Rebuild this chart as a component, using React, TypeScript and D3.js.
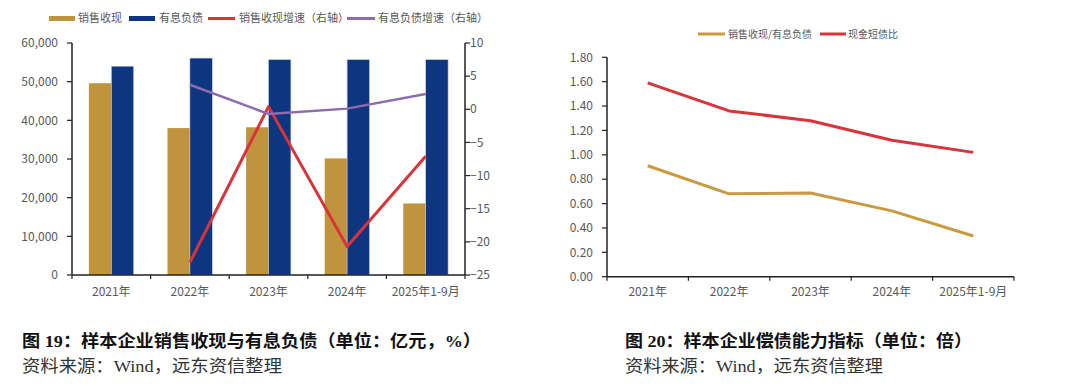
import React from "react";
import * as d3 from "d3";

const categories = ["2021年", "2022年", "2023年", "2024年", "2025年1-9月"];
const salesCash = [49600, 38000, 38200, 30150, 18500];
const debt = [54000, 56100, 55700, 55700, 55700];
const salesGrowth: (number | null)[] = [null, -23.1, 0.4, -20.7, -7.1];
const debtGrowth: (number | null)[] = [null, 3.7, -0.7, 0.1, 2.3];
const leftTicks = [0, 10000, 20000, 30000, 40000, 50000, 60000];
const rightTicks = [10, 5, 0, -5, -10, -15, -20, -25];

const salesToDebt = [0.91, 0.68, 0.687, 0.54, 0.334];
const cashShortDebt = [1.59, 1.36, 1.28, 1.12, 1.02];
const ratioTicks = [0, 0.2, 0.4, 0.6, 0.8, 1.0, 1.2, 1.4, 1.6, 1.8];

const GOLD = "#BF943C";
const BLUE = "#0E3580";
const RED = "#D8343A";
const PURPLE = "#8C6BB1";
const LINEGOLD = "#C99A3F";
const TXT = "#595959";
const FONT = "'Noto Sans CJK SC', 'DejaVu Sans', sans-serif";
const CAPFONT = "'Liberation Serif', 'Noto Sans CJK SC', serif";

function LeftChart() {
  const x0 = 72, x1 = 465, yTop = 43, yBot = 275;
  const x = d3.scaleBand<string>().domain(categories).range([x0, x1]).paddingInner(0.43).paddingOuter(0.215);
  const sub = d3.scaleBand<string>().domain(["s", "d"]).range([0, x.bandwidth()]);
  const yL = d3.scaleLinear().domain([0, 60000]).range([yBot, yTop]);
  const yR = d3.scaleLinear().domain([-25, 10]).range([yBot, yTop]);
  const cx = (c: string) => (x(c) as number) + x.bandwidth() / 2;
  const step = (x1 - x0) / categories.length;
  const mkLine = d3
    .line<number | null>()
    .defined((d) => d !== null)
    .x((_, i) => cx(categories[i]))
    .y((d) => yR(d as number));
  const fmt = d3.format(",");
  return (
    <g>
      {/* legend */}
      <g fontFamily={FONT} fontSize={11} fill={TXT}>
        <rect x={49} y={16} width={26} height={5} fill={GOLD} />
        <text x={78} y={22}>销售收现</text>
        <rect x={129} y={16} width={26} height={5} fill={BLUE} />
        <text x={159} y={22}>有息负债</text>
        <line x1={208} x2={235} y1={18.5} y2={18.5} stroke={RED} strokeWidth={3} />
        <text x={239} y={22}>销售收现增速（右轴）</text>
        <line x1={347} x2={375} y1={18.5} y2={18.5} stroke={PURPLE} strokeWidth={3} />
        <text x={378} y={22}>有息负债增速（右轴）</text>
      </g>
      {/* bars */}
      {categories.map((c, i) => (
        <g key={c}>
          <rect
            x={(x(c) as number) + (sub("s") as number)}
            y={yL(salesCash[i])}
            width={sub.bandwidth()}
            height={yBot - yL(salesCash[i])}
            fill={GOLD}
          />
          <rect
            x={(x(c) as number) + (sub("d") as number)}
            y={yL(debt[i])}
            width={sub.bandwidth()}
            height={yBot - yL(debt[i])}
            fill={BLUE}
            stroke="#c6d0e6"
            strokeWidth={0.6}
          />
        </g>
      ))}
      {/* lines */}
      <path d={mkLine(salesGrowth) || ""} fill="none" stroke={RED} strokeWidth={3} strokeLinejoin="round" />
      <path d={mkLine(debtGrowth) || ""} fill="none" stroke={PURPLE} strokeWidth={2.5} strokeLinejoin="round" />
      {/* left axis */}
      <line x1={x0} x2={x0} y1={yTop} y2={yBot} stroke="#222" strokeWidth={1.5} />
      {leftTicks.map((t) => (
        <g key={t}>
          <line x1={x0 - 5} x2={x0} y1={yL(t)} y2={yL(t)} stroke="#222" strokeWidth={1.2} />
          <text x={58} y={yL(t)} dy="0.35em" textAnchor="end" fontFamily={FONT} fontSize={12} fill={TXT}>
            {fmt(t)}
          </text>
        </g>
      ))}
      {/* right axis */}
      <line x1={x1} x2={x1} y1={yTop} y2={yBot} stroke="#222" strokeWidth={1.5} />
      {rightTicks.map((t) => (
        <g key={t}>
          <line x1={x1} x2={x1 + 5} y1={yR(t)} y2={yR(t)} stroke="#222" strokeWidth={1.2} />
          <text x={x1 + 5} y={yR(t)} dy="0.35em" fontFamily={FONT} fontSize={12} fill={TXT}>
            {t < 0 ? "\u2212" + Math.abs(t) : String(t)}
          </text>
        </g>
      ))}
      {/* x axis */}
      <line x1={x0} x2={x1} y1={yBot} y2={yBot} stroke="#222" strokeWidth={1.5} />
      {d3.range(categories.length + 1).map((i) => (
        <line key={i} x1={x0 + i * step} x2={x0 + i * step} y1={yBot} y2={yBot + 4} stroke="#222" strokeWidth={1.2} />
      ))}
      {categories.map((c) => (
        <text key={c} x={cx(c)} y={292} dy="0.35em" textAnchor="middle" fontFamily={FONT} fontSize={12} fill={TXT}>
          {c}
        </text>
      ))}
    </g>
  );
}

function RightChart() {
  const x0 = 607, x1 = 1014, yTop = 57.3, yBot = 276.7;
  const x = d3.scalePoint<string>().domain(categories).range([x0, x1]).padding(0.5);
  const y = d3.scaleLinear().domain([0, 1.8]).range([yBot, yTop]);
  const step = (x1 - x0) / categories.length;
  const mk = d3
    .line<number>()
    .x((_, i) => x(categories[i]) as number)
    .y((d) => y(d));
  return (
    <g>
      <g fontFamily={FONT} fontSize={10} fill={TXT}>
        <line x1={698} x2={725} y1={34} y2={34} stroke={LINEGOLD} strokeWidth={3} />
        <text x={728} y={37.5}>销售收现/有息负债</text>
        <line x1={820} x2={846} y1={34} y2={34} stroke={RED} strokeWidth={3} />
        <text x={848} y={37.5}>现金短债比</text>
      </g>
      <path d={mk(cashShortDebt) || ""} fill="none" stroke={RED} strokeWidth={3} strokeLinejoin="round" />
      <path d={mk(salesToDebt) || ""} fill="none" stroke={LINEGOLD} strokeWidth={3} strokeLinejoin="round" />
      <line x1={x0} x2={x0} y1={yTop} y2={yBot} stroke="#222" strokeWidth={1.5} />
      {ratioTicks.map((t) => (
        <g key={t}>
          <line x1={x0 - 5} x2={x0} y1={y(t)} y2={y(t)} stroke="#222" strokeWidth={1.2} />
          <text x={593} y={y(t)} dy="0.35em" textAnchor="end" fontFamily={FONT} fontSize={12} fill={TXT}>
            {t.toFixed(2)}
          </text>
        </g>
      ))}
      <line x1={x0} x2={x1} y1={yBot} y2={yBot} stroke="#222" strokeWidth={1.5} />
      {d3.range(categories.length + 1).map((i) => (
        <line key={i} x1={x0 + i * step} x2={x0 + i * step} y1={yBot} y2={yBot + 4} stroke="#222" strokeWidth={1.2} />
      ))}
      {categories.map((c) => (
        <text key={c} x={x(c) as number} y={292} dy="0.35em" textAnchor="middle" fontFamily={FONT} fontSize={12} fill={TXT}>
          {c}
        </text>
      ))}
    </g>
  );
}

export default function App() {
  return (
    <div style={{ position: "fixed", left: 0, top: 0, width: 1080, height: 386, background: "#fff" }}>
      <svg width={1080} height={386} viewBox="0 0 1080 386" style={{ display: "block" }}>
        <rect width={1080} height={386} fill="#fff" />
        <LeftChart />
        <RightChart />
        <g fontFamily={CAPFONT}>
          <text x={22} y={341} dy="0.35em" fontSize={17} fontWeight="bold" fill="#111" textLength={459} lengthAdjust="spacingAndGlyphs">
            图 19：样本企业销售收现与有息负债（单位：亿元，%）
          </text>
          <text x={22} y={366} dy="0.35em" fontSize={17} fill="#333" textLength={260} lengthAdjust="spacingAndGlyphs">
            资料来源：Wind，远东资信整理
          </text>
          <text x={625} y={341} dy="0.35em" fontSize={17} fontWeight="bold" fill="#111" textLength={347} lengthAdjust="spacingAndGlyphs">
            图 20：样本企业偿债能力指标（单位：倍）
          </text>
          <text x={625} y={366} dy="0.35em" fontSize={17} fill="#333" textLength={258} lengthAdjust="spacingAndGlyphs">
            资料来源：Wind，远东资信整理
          </text>
        </g>
      </svg>
    </div>
  );
}
